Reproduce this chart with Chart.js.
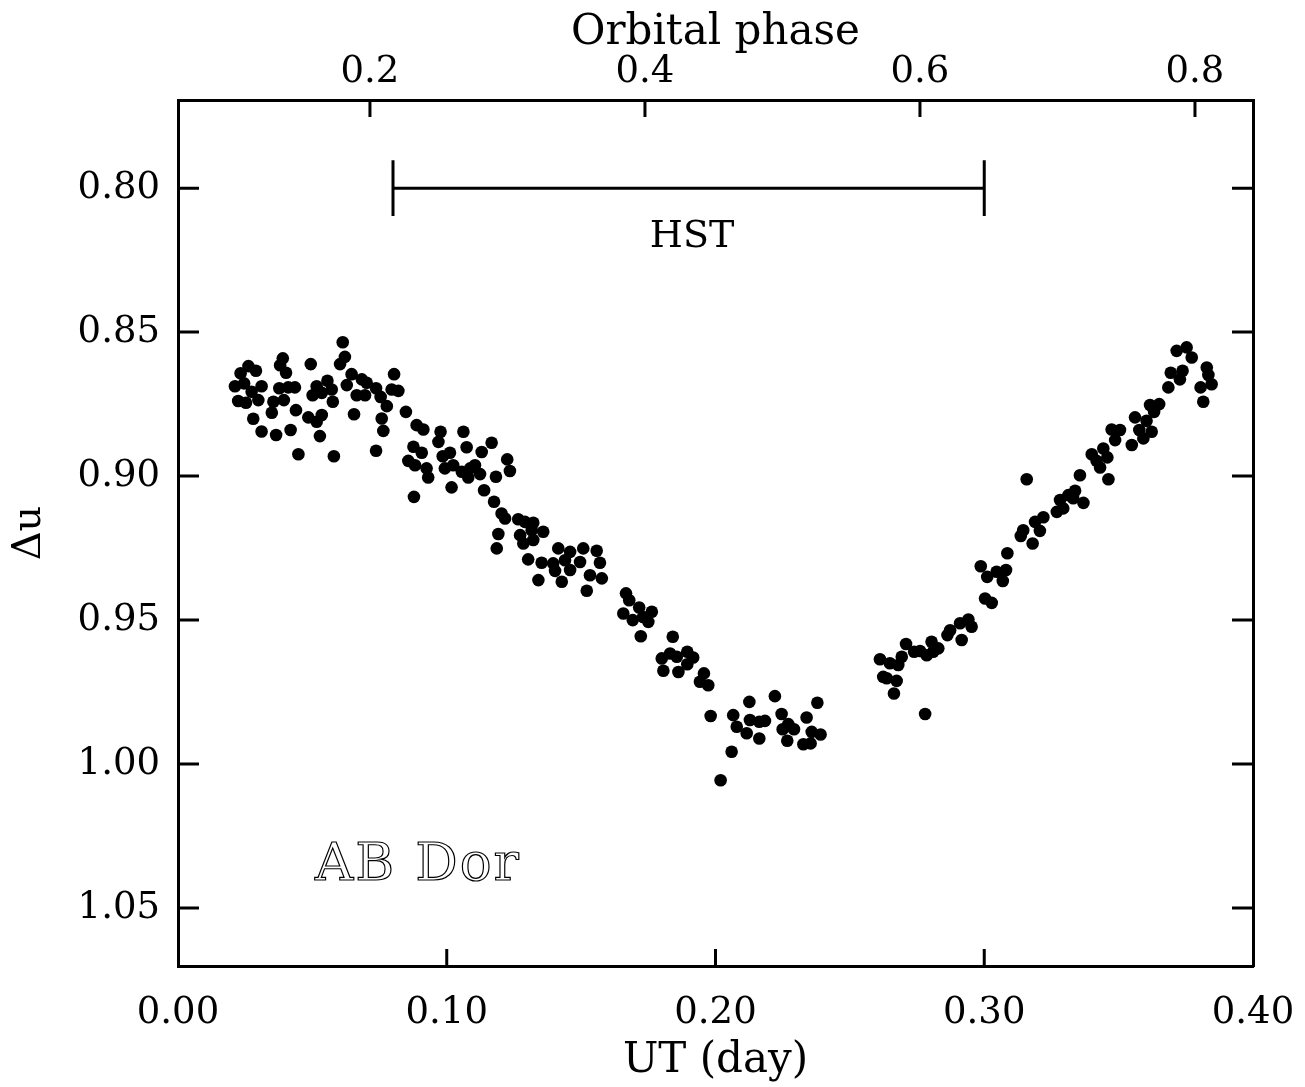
<!DOCTYPE html>
<html>
<head>
<meta charset="utf-8">
<title>AB Dor - Delta u light curve</title>
<script src="https://cdn.jsdelivr.net/npm/chart.js@4.4.1/dist/chart.umd.min.js"></script>
<style>
  html, body { margin: 0; padding: 0; background: #fff; }
  canvas { display: block; }
</style>
</head>
<body>
<canvas id="lc" width="1305" height="1087"></canvas>
<script>
// UT (day) of each measurement
const utDay = [
  0.0613, 0.0621, 0.0603, 0.0390, 0.0380, 0.0402, 0.0494, 0.0262, 0.0290, 0.0233,
  0.0212, 0.0246, 0.0274, 0.0311, 0.0377, 0.0410, 0.0435, 0.0516, 0.0556, 0.0572,
  0.0501, 0.0535, 0.0646, 0.0628, 0.0684, 0.0702, 0.0665, 0.0696, 0.0804, 0.0795,
  0.0820, 0.0737, 0.0754, 0.0777, 0.0224, 0.0253, 0.0299, 0.0355, 0.0394, 0.0349,
  0.0439, 0.0485, 0.0516, 0.0535, 0.0576, 0.0655, 0.0758, 0.0764, 0.0848, 0.0280,
  0.0311, 0.0365, 0.0419, 0.0528, 0.0448, 0.0580, 0.0737, 0.0876, 0.0857, 0.0882,
  0.0888,
  0.0913, 0.0977, 0.0969, 0.1062, 0.1167, 0.1074, 0.1130, 0.0907, 0.0925, 0.0931,
  0.0985, 0.1012, 0.0993, 0.1024, 0.1056, 0.1087, 0.1105, 0.1124, 0.1080, 0.1018,
  0.0878, 0.1225, 0.1235, 0.1183, 0.1139, 0.1176, 0.1204, 0.1217, 0.1192, 0.1186,
  0.1266, 0.1291, 0.1322, 0.1316, 0.1273, 0.1285, 0.1322, 0.1359, 0.1303, 0.1353,
  0.1341, 0.1415, 0.1459, 0.1508, 0.1558, 0.1396, 0.1440, 0.1496, 0.1570, 0.1403,
  0.1428, 0.1459, 0.1533, 0.1577, 0.1521,
  0.1667, 0.1679, 0.1657, 0.1692, 0.1716, 0.1731, 0.1763, 0.1750, 0.1722, 0.1841,
  0.1800, 0.1831, 0.1856, 0.1895, 0.1917, 0.1895, 0.1806, 0.1862, 0.1957, 0.1942,
  0.1973, 0.1982, 0.2060, 0.2019, 0.2126, 0.2066, 0.2128, 0.2079, 0.2116, 0.2163,
  0.2184, 0.2163, 0.2221, 0.2246, 0.2271, 0.2250, 0.2292, 0.2267, 0.2339, 0.2379,
  0.2358, 0.2391, 0.2327, 0.2354,
  0.3158, 0.3270, 0.3220, 0.3189, 0.3207, 0.3145, 0.3136, 0.3180, 0.3086, 0.2987,
  0.3011, 0.3046, 0.3081, 0.3069, 0.3003, 0.3028, 0.2941, 0.2953, 0.2910, 0.2873,
  0.2863, 0.2916, 0.2804, 0.2829, 0.2786, 0.2761, 0.2739, 0.2709, 0.2810, 0.2693,
  0.2612, 0.2649, 0.2680, 0.2624, 0.2674, 0.2637, 0.2664, 0.2780,
  0.3716, 0.3753, 0.3772, 0.3828, 0.3834, 0.3846, 0.3805, 0.3815, 0.3694, 0.3738,
  0.3728, 0.3685, 0.3617, 0.3651, 0.3632, 0.3561, 0.3604, 0.3577, 0.3623, 0.3592,
  0.3549, 0.3474, 0.3505, 0.3487, 0.3443, 0.3400, 0.3418, 0.3431, 0.3458, 0.3462,
  0.3356, 0.3338, 0.3313, 0.3282, 0.3294, 0.3369, 0.3331
];

// Delta u (mag) for the same points
const deltaU = [
  0.8535, 0.8586, 0.8611, 0.8591, 0.8615, 0.8641, 0.8611, 0.8618, 0.8634, 0.8643,
  0.8688, 0.8678, 0.8707, 0.8688, 0.8695, 0.8692, 0.8692, 0.8688, 0.8669, 0.8699,
  0.8719, 0.8711, 0.8646, 0.8684, 0.8664, 0.8676, 0.8719, 0.8719, 0.8646, 0.8699,
  0.8704, 0.8695, 0.8725, 0.8757, 0.8739, 0.8745, 0.8736, 0.8742, 0.8736, 0.8780,
  0.8771, 0.8796, 0.8811, 0.8788, 0.8742, 0.8785, 0.8800, 0.8843, 0.8777, 0.8801,
  0.8845, 0.8857, 0.8840, 0.8861, 0.8924, 0.8931, 0.8912, 0.8898, 0.8947, 0.8962,
  0.8823,
  0.8838, 0.8846, 0.8881, 0.8846, 0.8884, 0.8900, 0.8916, 0.8919, 0.8973, 0.9005,
  0.8931, 0.8919, 0.8973, 0.8962, 0.8985, 0.8973, 0.8962, 0.8993, 0.9005, 0.9039,
  0.9072, 0.8942, 0.8982, 0.9002, 0.9049, 0.9089, 0.9130, 0.9147, 0.9201, 0.9251,
  0.9150, 0.9159, 0.9162, 0.9188, 0.9205, 0.9234, 0.9222, 0.9193, 0.9289, 0.9301,
  0.9361, 0.9251, 0.9263, 0.9251, 0.9259, 0.9303, 0.9292, 0.9298, 0.9301, 0.9329,
  0.9367, 0.9326, 0.9344, 0.9355, 0.9398,
  0.9407, 0.9431, 0.9477, 0.9500, 0.9456, 0.9489, 0.9471, 0.9506, 0.9556, 0.9558,
  0.9633, 0.9616, 0.9627, 0.9610, 0.9630, 0.9653, 0.9676, 0.9680, 0.9685, 0.9714,
  0.9726, 0.9833, 0.9957, 1.0056, 0.9784, 0.9830, 0.9847, 0.9870, 0.9893, 0.9853,
  0.9850, 0.9911, 0.9764, 0.9826, 0.9861, 0.9879, 0.9879, 0.9919, 0.9838, 0.9787,
  0.9888, 0.9897, 0.9931, 0.9928,
  0.9011, 0.9124, 0.9143, 0.9159, 0.9190, 0.9188, 0.9208, 0.9234, 0.9268, 0.9313,
  0.9350, 0.9332, 0.9326, 0.9364, 0.9425, 0.9440, 0.9498, 0.9523, 0.9511, 0.9535,
  0.9552, 0.9569, 0.9575, 0.9598, 0.9622, 0.9607, 0.9610, 0.9583, 0.9610, 0.9627,
  0.9636, 0.9650, 0.9656, 0.9697, 0.9711, 0.9702, 0.9755, 0.9826,
  0.8565, 0.8553, 0.8588, 0.8623, 0.8649, 0.8681, 0.8692, 0.8742, 0.8641, 0.8634,
  0.8664, 0.8692, 0.8753, 0.8750, 0.8777, 0.8796, 0.8808, 0.8840, 0.8846, 0.8869,
  0.8892, 0.8838, 0.8840, 0.8875, 0.8904, 0.8924, 0.8947, 0.8970, 0.8935, 0.9011,
  0.8997, 0.9051, 0.9066, 0.9083, 0.9112, 0.9093, 0.9077
];

const utTicks = [0.0, 0.1, 0.2, 0.3, 0.4];
const duTicks = [0.80, 0.85, 0.90, 0.95, 1.00, 1.05];
const phaseTicks = [0.2, 0.4, 0.6, 0.8];

const utRange = [0, 0.4];
const duRange = [0.7694, 1.0701];
const phaseRange = [0.0604, 0.8422];

// HST coverage bar
const hstSpan = [0.08, 0.30];
const hstLevel = 0.80;
const hstCap = 0.0097;
const hstLabel = { x: 0.1913, y: 0.8205 };
const starLabel = { x: 0.051, y: 1.0403 };

const serif = '"DejaVu Serif", "Liberation Serif", serif';

const points = utDay.map((x, i) => ({ x: x, y: deltaU[i] }));

const setTicks = (values) => (scale) => {
  scale.ticks = values.map((v) => ({ value: v }));
};

// fixed axis boxes, no extra label overhang padding
const fixHeight = (h) => (s) => {
  s.height = h;
  s.paddingLeft = 0;
  s.paddingRight = 0;
};
const fixWidth = (w) => (s) => {
  s.width = w;
  s.paddingTop = 0;
  s.paddingBottom = 0;
};

// Ticks pointing into the plot, plus the text annotations
const innerMarks = {
  id: "innerMarks",
  afterDraw(chart) {
    const { ctx, chartArea: a, scales } = chart;
    ctx.save();
    ctx.strokeStyle = "#000";
    ctx.lineWidth = 3;
    ctx.beginPath();
    const edge = (p, lo, hi) => p > lo + 2 && p < hi - 2;
    scales.x.ticks.forEach((t) => {
      const p = scales.x.getPixelForValue(t.value);
      if (!edge(p, a.left, a.right)) return;
      ctx.moveTo(p, a.bottom);
      ctx.lineTo(p, a.bottom - 17);
    });
    scales.x2.ticks.forEach((t) => {
      const p = scales.x2.getPixelForValue(t.value);
      if (!edge(p, a.left, a.right)) return;
      ctx.moveTo(p, a.top);
      ctx.lineTo(p, a.top + 17);
    });
    scales.y.ticks.forEach((t) => {
      const p = scales.y.getPixelForValue(t.value);
      ctx.moveTo(a.left, p);
      ctx.lineTo(a.left + 21, p);
    });
    scales.y2.ticks.forEach((t) => {
      const p = scales.y2.getPixelForValue(t.value);
      ctx.moveTo(a.right, p);
      ctx.lineTo(a.right - 21, p);
    });
    ctx.stroke();

    ctx.fillStyle = "#000";
    ctx.font = "38px " + serif;
    ctx.textAlign = "center";
    ctx.textBaseline = "alphabetic";
    ctx.fillText("HST", scales.x.getPixelForValue(hstLabel.x), scales.y.getPixelForValue(hstLabel.y));

    // outlined star name
    ctx.font = "53px " + serif;
    ctx.textAlign = "left";
    ctx.letterSpacing = "2px";
    ctx.lineWidth = 1.2;
    const sx = scales.x.getPixelForValue(starLabel.x);
    const sy = scales.y.getPixelForValue(starLabel.y);
    ctx.fillStyle = "#fff";
    ctx.fillText("AB Dor", sx, sy);
    ctx.strokeText("AB Dor", sx, sy);
    ctx.restore();
  },
};

const frame = { display: true, color: "#000", width: 3 };
const tickFont = { family: serif, size: 37 };
const titleFont = { family: serif, size: 42 };

new Chart(document.getElementById("lc"), {
  type: "scatter",
  data: {
    datasets: [
      {
        data: points,
        backgroundColor: "#000",
        borderWidth: 0,
        pointRadius: 6.3,
        xAxisID: "x",
        yAxisID: "y",
      },
      {
        type: "line",
        data: [{ x: hstSpan[0], y: hstLevel }, { x: hstSpan[1], y: hstLevel }],
        borderColor: "#000",
        borderWidth: 3,
        pointRadius: 0,
        xAxisID: "x",
        yAxisID: "y",
      },
      {
        type: "line",
        data: [{ x: hstSpan[0], y: hstLevel - hstCap }, { x: hstSpan[0], y: hstLevel + hstCap }],
        borderColor: "#000",
        borderWidth: 3,
        pointRadius: 0,
        xAxisID: "x",
        yAxisID: "y",
      },
      {
        type: "line",
        data: [{ x: hstSpan[1], y: hstLevel - hstCap }, { x: hstSpan[1], y: hstLevel + hstCap }],
        borderColor: "#000",
        borderWidth: 3,
        pointRadius: 0,
        xAxisID: "x",
        yAxisID: "y",
      },
    ],
  },
  options: {
    responsive: false,
    animation: false,
    events: [],
    layout: { padding: 0 },
    plugins: { legend: { display: false }, tooltip: { enabled: false } },
    scales: {
      x: {
        type: "linear",
        position: "bottom",
        min: utRange[0],
        max: utRange[1],
        afterBuildTicks: setTicks(utTicks),
        afterFit: fixHeight(121),
        grid: { display: false },
        border: frame,
        ticks: {
          color: "#000",
          font: tickFont,
          padding: 17,
          maxRotation: 0,
          autoSkip: false,
          callback: (v) => v.toFixed(2),
        },
        title: { display: true, text: "UT (day)", color: "#000", font: titleFont, padding: { top: 0, bottom: 1 } },
      },
      x2: {
        type: "linear",
        position: "top",
        min: phaseRange[0],
        max: phaseRange[1],
        afterBuildTicks: setTicks(phaseTicks),
        afterFit: fixHeight(100),
        grid: { display: false },
        border: frame,
        ticks: {
          color: "#000",
          font: tickFont,
          padding: -3,
          maxRotation: 0,
          autoSkip: false,
          callback: (v) => v.toFixed(1),
        },
        title: { display: true, text: "Orbital phase", color: "#000", font: titleFont, padding: { top: 8, bottom: 0 } },
      },
      y: {
        type: "linear",
        position: "left",
        reverse: true,
        min: duRange[0],
        max: duRange[1],
        afterBuildTicks: setTicks(duTicks),
        afterFit: fixWidth(178),
        grid: { display: false },
        border: frame,
        ticks: {
          color: "#000",
          font: tickFont,
          padding: 10,
          autoSkip: false,
          callback: (v) => v.toFixed(2),
        },
        title: { display: true, text: "Δu", color: "#000", font: { family: serif, size: 40 }, padding: { top: 6, bottom: 0 } },
      },
      y2: {
        type: "linear",
        position: "right",
        reverse: true,
        min: duRange[0],
        max: duRange[1],
        afterBuildTicks: setTicks(duTicks),
        afterFit: fixWidth(52),
        grid: { display: false },
        border: frame,
        ticks: { display: false },
      },
    },
  },
  plugins: [innerMarks],
});
</script>
</body>
</html>
